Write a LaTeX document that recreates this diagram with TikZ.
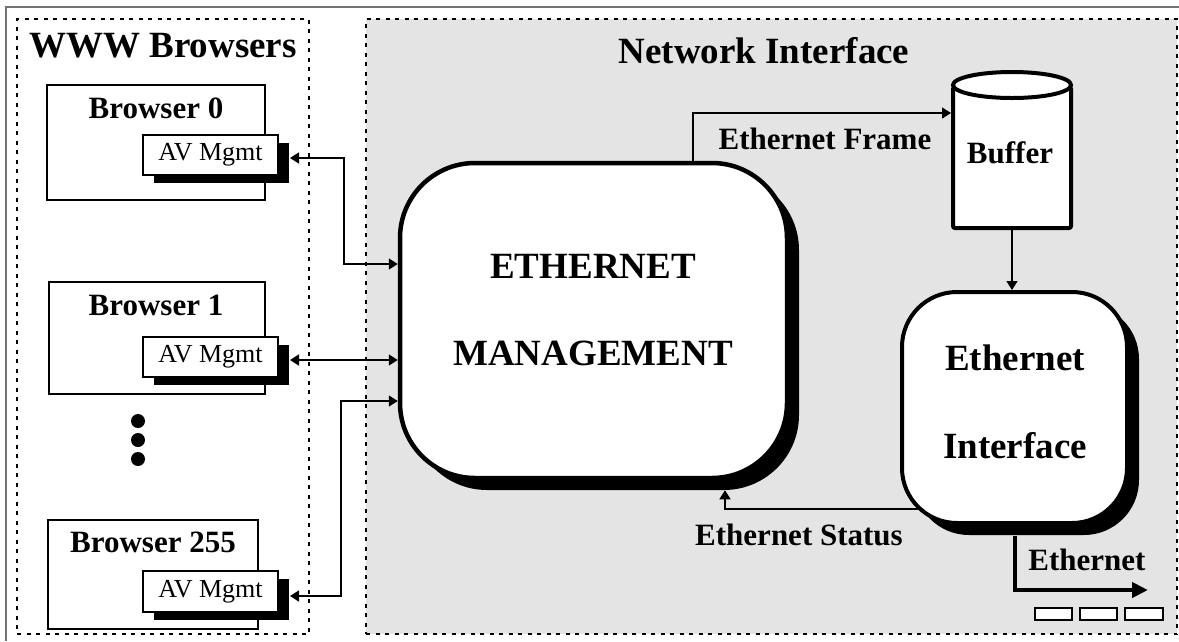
\documentclass[tikz,border=0pt]{standalone}
\usepackage{fontspec}
\setmainfont{Liberation Serif}
\usetikzlibrary{arrows.meta,shadows}
\definecolor{panelgray}{HTML}{E4E4E4}
\begin{document}
\begin{tikzpicture}[x=1pt,y=-1pt,
  bigtxt/.style={font=\fontsize{37}{40}\selectfont\bfseries, anchor=base, inner sep=0pt},
  midtxt/.style={font=\fontsize{31}{34}\selectfont\bfseries, anchor=base, inner sep=0pt},
  groupframe/.style={draw, line width=2.5pt, dash pattern=on 4pt off 5.5pt, inner sep=0pt},
  browserbox/.style={draw, fill=white, line width=2.5pt, inner sep=0pt},
  avbox/.style={draw, fill=white, line width=2pt, inner sep=0pt,
    minimum width=135pt, minimum height=40pt,
    font=\fontsize{26}{28}\selectfont,
    general shadow={fill=black, shadow xshift=11pt, shadow yshift=-8pt}},
  bigblock/.style={draw, fill=white, inner sep=0pt,
    general shadow={fill=black, shadow xshift=12pt, shadow yshift=-12pt}},
  wirebox/.style={draw, fill=white, line width=2pt, inner sep=0pt, minimum height=12pt},
  dot/.style={circle, fill=black, inner sep=0pt, minimum size=14pt},
  arr/.style={line width=1.5pt, -{Triangle[length=9pt,width=11pt]}},
  dbl/.style={line width=1.5pt, {Triangle[length=9pt,width=11pt]}-{Triangle[length=9pt,width=11pt]}},
  thickarr/.style={line width=4pt, -{Triangle[length=16pt,width=15pt]}}]
\useasboundingbox (0,0) rectangle (1179,641);

% outer frame
\draw[black!55, line width=1.5pt] (6,641) -- (6,7) -- (1179,7);

% group frames
\node[groupframe, minimum width=292pt, minimum height=615pt] (www) at (163,326.5) {};
\node[groupframe, fill=panelgray, minimum width=811pt, minimum height=615pt] (net) at (771.5,326.5) {};
\node[bigtxt] (wwwtitle) at (163,57) {WWW Browsers};
\node[bigtxt] (nettitle) at (764,63) {Network Interface};

% browsers
\node[browserbox, minimum width=218pt, minimum height=115pt] (b0) at (156,142.5) {};
\node[midtxt] (b0t) at (156,118) {Browser 0};
\node[avbox] (av0) at (210.5,155) {AV Mgmt};

\node[browserbox, minimum width=216pt, minimum height=112pt] (b1) at (157,338) {};
\node[midtxt] (b1t) at (156,315) {Browser 1};
\node[avbox] (av1) at (210.5,357) {AV Mgmt};

\node[dot] (d1) at (138,421) {};
\node[dot] (d2) at (138,440) {};
\node[dot] (d3) at (138,459) {};

\node[browserbox, minimum width=210pt, minimum height=109pt] (b2) at (153,574.5) {};
\node[midtxt] (b2t) at (153,552) {Browser 255};
\node[avbox, minimum height=41pt] (av2) at (210.5,591.5) {AV Mgmt};

% ethernet management
\node[bigblock, line width=4.5pt, rounded corners=75pt,
  minimum width=387pt, minimum height=315pt] (mgmt) at (593.5,320.5) {};
\node[bigtxt] (mgmt1) at (593,278) {ETHERNET};
\node[bigtxt] (mgmt2) at (593,365) {MANAGEMENT};

% buffer
\node[draw, fill=white, line width=4pt, rounded corners=2pt, inner sep=0pt,
  minimum width=118pt, minimum height=141pt] (buf) at (1012,157.5) {};
\draw[line width=4pt, fill=white] (buf.north) ellipse [x radius=59pt, y radius=13pt];
\node[midtxt] (buft) at (1010,163) {Buffer};

% ethernet interface
\node[bigblock, line width=4pt, rounded corners=55pt,
  minimum width=225pt, minimum height=231pt] (ei) at (1014.5,407.5) {};
\node[bigtxt] (ei1) at (1015,370) {Ethernet};
\node[bigtxt] (ei2) at (1015,458) {Interface};

% browser links
\coordinate (j0) at (344,264);
\coordinate (j2) at (341,401);
\coordinate (a1e) at ([xshift=11pt,yshift=-3pt]av1.east);
\draw[dbl] ([xshift=11pt,yshift=-3pt]av0.east) -| (j0) -- (j0 -| mgmt.west);
\draw[dbl] (a1e) -- (a1e -| mgmt.west);
\draw[dbl] ([xshift=11pt,yshift=-4.5pt]av2.east) -| (j2) -- (j2 -| mgmt.west);

% frames to buffer and interface
\draw[arr] ([xshift=99.5pt]mgmt.north) |- ([yshift=44.5pt]buf.west);
\node[midtxt] (frame) at (825,149) {Ethernet Frame};
\draw[arr] (buf.south) -- (buf.south |- ei.north);

% status back to management
\draw[arr] ([xshift=18pt,yshift=-101.5pt]ei.west) -| ([xshift=131.5pt,yshift=-10pt]mgmt.south);
\node[midtxt] (status) at (799,545) {Ethernet Status};

% physical link
\coordinate (ethout) at (1148,590);
\draw[thickarr] ([yshift=-11pt]ei.south) |- (ethout);
\node[midtxt] (ethlbl) at (1087,570) {Ethernet};
\node[wirebox, minimum width=37pt] (w1) at (1053.5,614) {};
\node[wirebox, minimum width=37pt] (w2) at (1098.5,614) {};
\node[wirebox, minimum width=38pt] (w3) at (1144,614) {};
\end{tikzpicture}
\end{document}
